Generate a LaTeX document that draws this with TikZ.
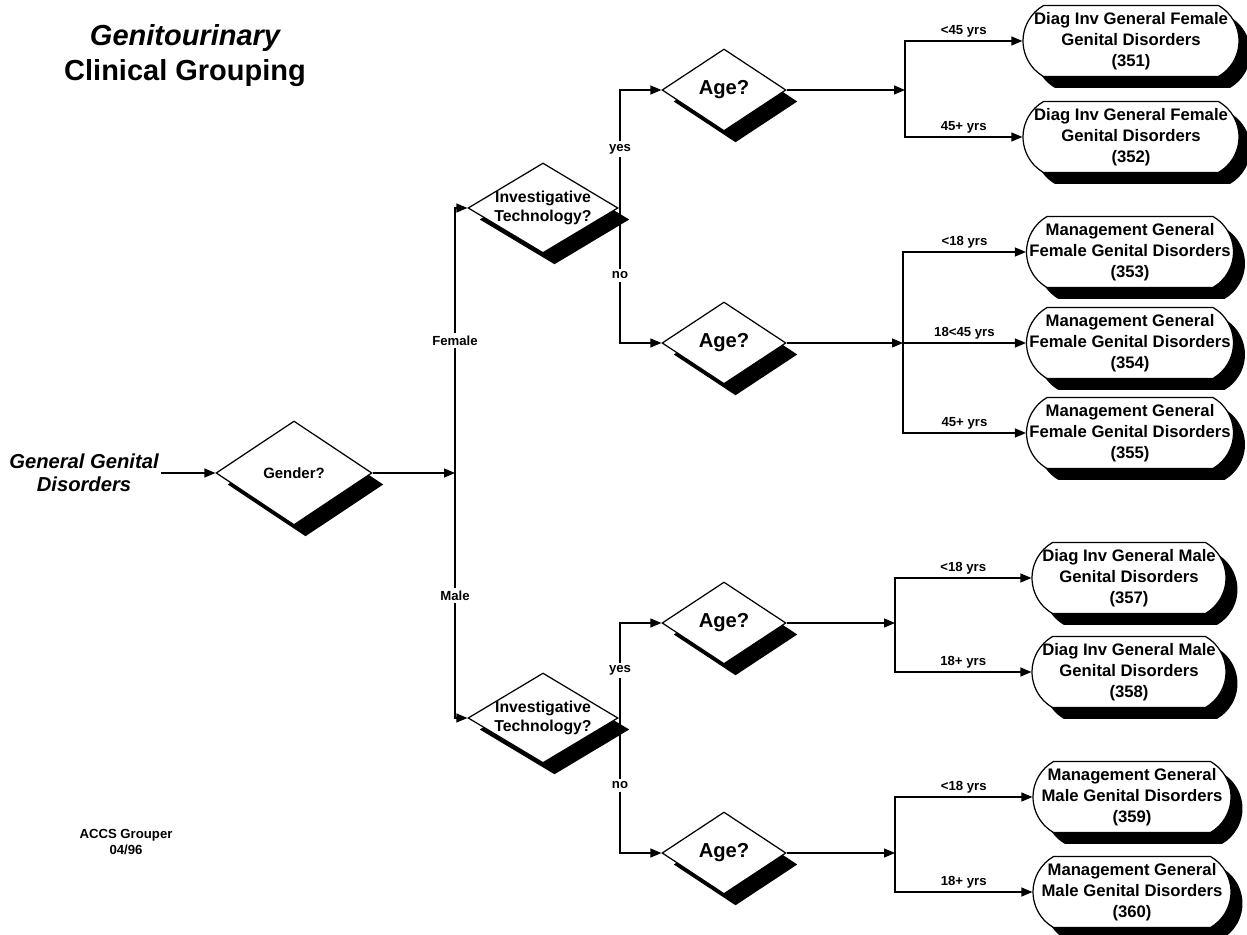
\documentclass[tikz,border=0pt]{standalone}
\usepackage{fontspec}
\setmainfont{Liberation Sans}
\usetikzlibrary{shapes.geometric,shapes.misc,shadows,arrows.meta}

\tikzset{
  shad/.style = {drop shadow={shadow xshift=2.3mm, shadow yshift=-2.3mm, fill=black, opacity=1}},
  dia/.style = {draw, diamond, fill=white, inner sep=0pt, shad},
  genderdia/.style = {dia, minimum width=3.12cm, minimum height=2.08cm},
  techdia/.style = {dia, minimum width=3.0cm, minimum height=1.8cm},
  agedia/.style = {dia, minimum width=2.48cm, minimum height=1.64cm},
  qtext/.style = {align=center, inner sep=0pt, font=\fontsize{9}{11}\selectfont\bfseries},
  gendertext/.style = {qtext, font=\fontsize{8.5}{10}\selectfont\bfseries},
  agetext/.style = {qtext, font=\fontsize{11.5}{13}\selectfont\bfseries},
  term/.style = {draw, rounded rectangle, rounded rectangle arc length=120, fill=white,
    minimum width=4.2cm, minimum height=1.42cm, inner sep=0pt, shad},
  termtext/.style = {align=center, inner sep=0pt, font=\fontsize{9.5}{11.8}\selectfont\bfseries},
  lab/.style = {fill=white, inner sep=1.5pt, font=\fontsize{7.5}{9}\selectfont\bfseries},
  yrs/.style = {above, pos=.75, inner sep=2pt, font=\fontsize{7.5}{9}\selectfont\bfseries},
  arr/.style = {-{Triangle[length=2.2mm, width=1.8mm]}}
}

\begin{document}
\begin{tikzpicture}[x=0.02cm, y=-0.02cm, line width=0.7pt]
\useasboundingbox (0,0) rectangle (1247,935);

% titles
\node[align=center, font=\fontsize{16.5}{20}\selectfont\bfseries] (title) at (185,56)
  {{\itshape Genitourinary}\\Clinical Grouping};
\node[align=center, inner sep=1pt, font=\fontsize{11.5}{13}\selectfont\bfseries\itshape] (start) at (84,473)
  {General Genital\\Disorders};
\node[align=center, font=\fontsize{7.5}{9}\selectfont\bfseries] (accs) at (126,842)
  {ACCS Grouper\\04/96};

% decisions
\node[genderdia, label={[gendertext]center:Gender?}] (gender) at (294,473) {};
\node[techdia, label={[qtext]center:Investigative\\Technology?}] (itF) at (543,208) {};
\node[techdia, label={[qtext]center:Investigative\\Technology?}] (itM) at (543,718) {};
\node[agedia, label={[agetext]center:Age?}] (ageFy) at (724,90) {};
\node[agedia, label={[agetext]center:Age?}] (ageFn) at (724,343) {};
\node[agedia, label={[agetext]center:Age?}] (ageMy) at (724,623) {};
\node[agedia, label={[agetext]center:Age?}] (ageMn) at (724,853) {};

% groups
\node[term, minimum width=4.32cm, label={[termtext]center:Diag Inv General Female\\Genital Disorders\\(351)}] (t351) at (1131,41) {};
\node[term, minimum width=4.32cm, label={[termtext]center:Diag Inv General Female\\Genital Disorders\\(352)}] (t352) at (1131,137) {};
\node[term, minimum width=4.14cm, label={[termtext]center:Management General\\Female Genital Disorders\\(353)}] (t353) at (1130,252) {};
\node[term, minimum width=4.14cm, label={[termtext]center:Management General\\Female Genital Disorders\\(354)}] (t354) at (1130,343) {};
\node[term, minimum width=4.14cm, label={[termtext]center:Management General\\Female Genital Disorders\\(355)}] (t355) at (1130,433) {};
\node[term, minimum width=3.88cm, label={[termtext]center:Diag Inv General Male\\Genital Disorders\\(357)}] (t357) at (1129,578) {};
\node[term, minimum width=3.88cm, label={[termtext]center:Diag Inv General Male\\Genital Disorders\\(358)}] (t358) at (1129,672) {};
\node[term, minimum width=3.96cm, label={[termtext]center:Management General\\Male Genital Disorders\\(359)}] (t359) at (1132,797) {};
\node[term, minimum width=3.96cm, label={[termtext]center:Management General\\Male Genital Disorders\\(360)}] (t360) at (1132,892) {};

% junctions
\coordinate (gj)  at (455,473);
\coordinate (fj)  at (620,208);
\coordinate (mj)  at (620,718);
\coordinate (bfy) at (905,90);
\coordinate (bfn) at (903,343);
\coordinate (bmy) at (895,623);
\coordinate (bmn) at (895,853);

\draw[arr] (start) -- (gender);
\draw[arr] (gender) -- (gj);
\draw[arr] (gj) |- node[lab, pos=.25] {Female} (itF);
\draw[arr] (gj) |- node[lab, pos=.25] {Male} (itM);

\draw (itF) -- (fj);
\draw[arr] (fj) |- node[lab, pos=.25] {yes} (ageFy);
\draw[arr] (fj) |- node[lab, pos=.25] {no} (ageFn);
\draw (itM) -- (mj);
\draw[arr] (mj) |- node[lab, pos=.25] {yes} (ageMy);
\draw[arr] (mj) |- node[lab, pos=.25] {no} (ageMn);

\draw[arr] (ageFy) -- (bfy);
\draw[arr] (bfy) |- node[yrs] {<45 yrs} (t351);
\draw[arr] (bfy) |- node[yrs] {45+ yrs} (t352);

\draw[arr] (ageFn) -- (bfn);
\draw[arr] (bfn) |- node[yrs] {<18 yrs} (t353);
\draw[arr] (bfn) -- node[above, inner sep=2pt, font=\fontsize{7.5}{9}\selectfont\bfseries] {18<45 yrs} (t354);
\draw[arr] (bfn) |- node[yrs] {45+ yrs} (t355);

\draw[arr] (ageMy) -- (bmy);
\draw[arr] (bmy) |- node[yrs] {<18 yrs} (t357);
\draw[arr] (bmy) |- node[yrs] {18+ yrs} (t358);

\draw[arr] (ageMn) -- (bmn);
\draw[arr] (bmn) |- node[yrs] {<18 yrs} (t359);
\draw[arr] (bmn) |- node[yrs] {18+ yrs} (t360);
\end{tikzpicture}
\end{document}
